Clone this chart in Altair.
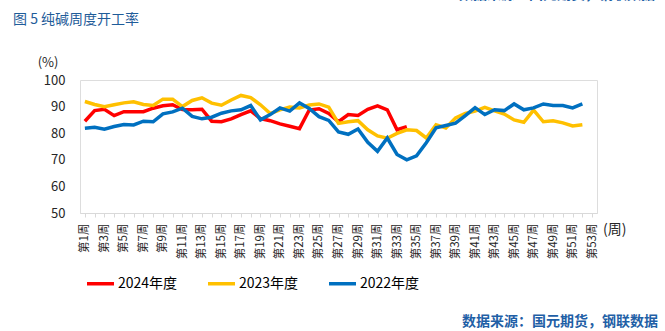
import altair as alt
import pandas as pd

# ---------------- data ----------------
weeks = [f"第{i}周" for i in range(1, 54)]
series_names = ["2024年度", "2023年度", "2022年度"]
series_colors = ["#FF0000", "#FFC000", "#0070C0"]
y_ticks = [50, 60, 70, 80, 90, 100]

v2024 = [84.5, 88.5, 89.0, 86.6, 88.1, 88.1, 88.1, 89.4, 90.3, 90.7,
         88.9, 88.8, 89.0, 84.5, 84.3, 85.4, 87.0, 88.4, 85.5, 84.7,
         83.5, 82.6, 81.7, 88.7, 89.2, 87.4, 84.3, 87.0, 86.7, 89.0,
         90.3, 88.8, 81.3, 82.5]
v2023 = [91.9, 90.8, 90.0, 90.7, 91.4, 91.8, 90.8, 90.4, 92.8, 92.8,
         90.0, 92.3, 93.3, 91.3, 90.5, 92.5, 94.2, 93.4, 90.7, 87.4,
         88.8, 89.8, 89.5, 90.6, 91.0, 89.8, 83.7, 84.3, 84.7, 81.3,
         79.0, 78.1, 79.9, 81.3, 81.0, 78.2, 83.2, 82.0, 85.7, 87.4,
         88.3, 89.7, 88.4, 87.2, 85.0, 84.1, 88.7, 84.3, 84.7, 83.9,
         82.7, 83.2]
v2022 = [81.9, 82.2, 81.5, 82.5, 83.3, 83.1, 84.5, 84.3, 87.3, 88.0,
         89.4, 86.3, 85.4, 86.0, 87.5, 88.4, 88.8, 90.4, 85.0, 87.0,
         89.5, 88.3, 91.4, 89.3, 86.2, 84.8, 80.5, 79.6, 81.6, 76.6,
         73.2, 78.2, 72.0, 70.0, 71.5, 76.4, 82.0, 82.9, 83.8, 86.6,
         89.6, 87.0, 88.8, 88.5, 91.0, 88.8, 89.5, 91.0, 90.4, 90.4,
         89.5, 91.0]

title_text = "图 5  纯碱周度开工率"
source_text = "数据来源：国元期货，钢联数据"
y_unit = "(%)"
x_unit = "(周)"

rows = []
for name, vals in zip(series_names, [v2024, v2023, v2022]):
    for i, v in enumerate(vals):
        rows.append({"week": weeks[i], "value": v, "series": name})
df = pd.DataFrame(rows)

FONT = "Noto Sans CJK SC"
W, H = 517, 133
PAD = {"left": 80, "top": 80, "right": 68, "bottom": 118}

lines = alt.Chart(df).mark_line(strokeWidth=3.5).encode(
    x=alt.X(
        "week:N",
        sort=weeks,
        scale=alt.Scale(domain=weeks, paddingInner=0, paddingOuter=0),
        axis=alt.Axis(
            title=None,
            labelAngle=270,
            labelExpr="toNumber(replace(replace(datum.value, '第', ''), '周', '')) % 2 == 1 ? datum.value : ''",
            labelOverlap=False,
            labelFont=FONT,
            labelFontSize=11.5,
            labelColor="#262626",
            labelPadding=6,
            domainColor="#D9D9D9",
            domainWidth=1,
            tickColor="#D9D9D9",
            tickSize=4,
            bandPosition=0,
            grid=False,
        ),
    ),
    y=alt.Y(
        "value:Q",
        scale=alt.Scale(domain=[50, 100], nice=False, zero=False),
        axis=alt.Axis(
            values=y_ticks,
            title=None,
            grid=False,
            domain=False,
            ticks=False,
            labelPadding=15,
            labelFont=FONT,
            labelFontSize=13,
            labelColor="#262626",
        ),
    ),
    color=alt.Color(
        "series:N",
        sort=series_names,
        scale=alt.Scale(domain=series_names, range=series_colors),
        legend=alt.Legend(
            title=None,
            orient="none",
            direction="horizontal",
            legendX=5,
            legendY=188,
            symbolType="stroke",
            symbolSize=729,
            symbolStrokeWidth=3.5,
            labelFont=FONT,
            labelFontSize=14,
            labelColor="#000000",
            labelOffset=2,
            columnPadding=23,
            padding=0,
        ),
    ),
)

def txt(text, x, y, align="left", size=13, color="#262626", weight="normal", baseline="middle"):
    return alt.Chart(pd.DataFrame({"t": [text]})).mark_text(
        align=align, baseline=baseline, font=FONT, fontSize=size,
        color=color, fontWeight=weight,
    ).encode(text="t:N", x=alt.value(x), y=alt.value(y))

title = txt(title_text, -67, -60, size=14, color="#1F5C99")
header_cut = txt(source_text, 575, -81, align="right", size=14, color="#1F5FA6",
                 weight="bold", baseline="alphabetic")
unit_y = txt(y_unit, -32, -17, align="center", size=13)
unit_x = txt(x_unit, 523, 150, align="left", size=14)
source = txt(source_text, 578, 242, align="right", size=14, color="#1F5FA6", weight="bold")

chart = alt.layer(lines, title, header_cut, unit_y, unit_x, source).properties(
    width=W,
    height=H,
    autosize=alt.AutoSizeParams(type="none"),
    padding=PAD,
).configure_view(stroke=None).configure(background="white")

chart.save("out.html", embed_options={"renderer": "svg", "actions": False})
